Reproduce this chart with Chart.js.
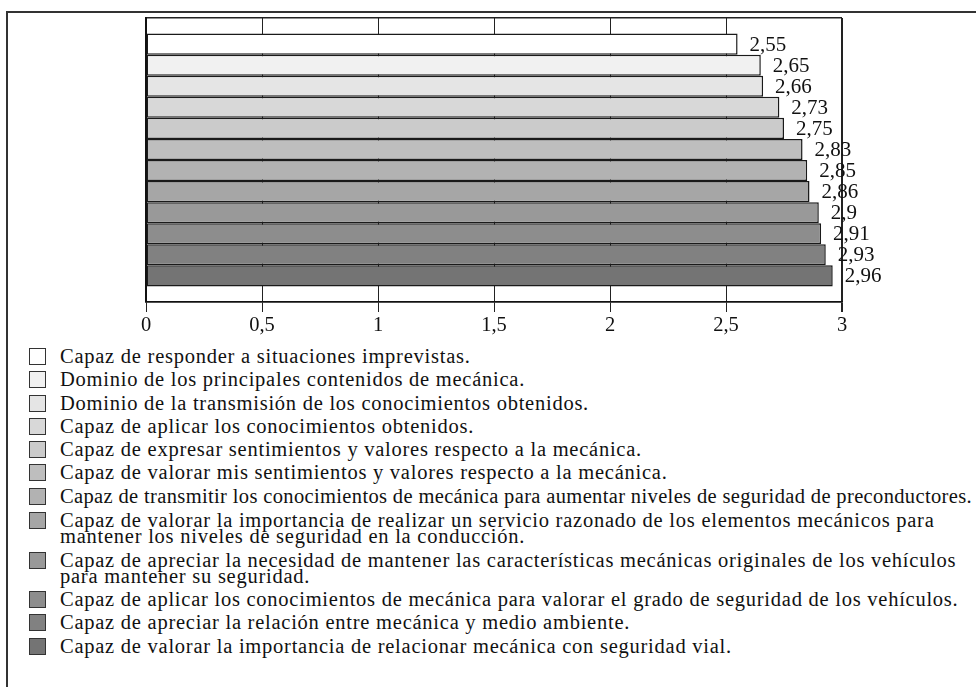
<!DOCTYPE html>
<html>
<head>
<meta charset="utf-8">
<script src="https://cdn.jsdelivr.net/npm/chart.js@4.4.1/dist/chart.umd.min.js"></script>
<style>
  html, body { margin: 0; padding: 0; background: #fff; }
  body { width: 976px; height: 687px; position: relative; overflow: hidden; font-family: "Liberation Serif", "DejaVu Serif", serif; }
  #frame { position: absolute; left: 6px; top: 11px; width: 1000px; height: 700px; border-left: 2px solid #333; border-top: 2px solid #333; }
  #wrap { position: absolute; left: 0; top: 0; width: 976px; height: 345px; }
  #legend { position: absolute; left: 29px; top: 350px; width: 947px; }
  .item { position: relative; padding-left: 31px; font-size: 20.5px; letter-spacing: 0.75px; color: #111; margin-bottom: 9.8px; }
  .item.multi { margin-top: 0px; margin-bottom: 9px; }
  .item .ln { line-height: 13.5px; height: 13.5px; white-space: nowrap; }
  .item.multi .ln { line-height: 15px; height: 15.5px; }
  .item .ln span { display: inline-block; }
  .item .box { position: absolute; left: 0; top: -2px; width: 15px; height: 15px; border: 1.5px solid #333; }
  .item.multi .box { top: -1.5px; }
</style>
</head>
<body>
<div id="frame"></div>
<div id="wrap"><canvas id="c" width="976" height="345"></canvas></div>
<div id="legend"></div>
<script>
// ---- data ----
const categories = [
  ["Capaz de responder a situaciones imprevistas."],
  ["Dominio de los principales contenidos de mecánica."],
  ["Dominio de la transmisión de los conocimientos obtenidos."],
  ["Capaz de aplicar los conocimientos obtenidos."],
  ["Capaz de expresar sentimientos y valores respecto a la mecánica."],
  ["Capaz de valorar mis sentimientos y valores respecto a la mecánica."],
  ["Capaz de transmitir los conocimientos de mecánica para aumentar niveles de seguridad de preconductores."],
  ["Capaz de valorar la importancia de realizar un servicio razonado de los elementos mecánicos para", "mantener los niveles de seguridad en la conducción."],
  ["Capaz de apreciar la necesidad de mantener las características mecánicas originales de los vehículos", "para mantener su seguridad."],
  ["Capaz de aplicar los conocimientos de mecánica para valorar el grado de seguridad de los vehículos."],
  ["Capaz de apreciar la relación entre mecánica y medio ambiente."],
  ["Capaz de valorar la importancia de relacionar mecánica con seguridad vial."]
];
const values = [2.55, 2.65, 2.66, 2.73, 2.75, 2.83, 2.85, 2.86, 2.9, 2.91, 2.93, 2.96];
const xTicks = [0, 0.5, 1, 1.5, 2, 2.5, 3];
const barColors = ['#ffffff','#f1f1f1','#e5e5e5','#d8d8d8','#cbcbcb','#bebebe','#b2b2b2','#a6a6a6','#999999','#8d8d8d','#818181','#747474'];

const fmt = v => String(v).replace('.', ',');
const SERIF = '"Liberation Serif", "DejaVu Serif", serif';

const datasets = values.map((v, i) => ({
  label: categories[i].join(' '),
  data: [v],
  backgroundColor: barColors[i],
  borderColor: '#1a1a1a',
  borderWidth: 1.5,
  borderSkipped: false,
  categoryPercentage: 0.89,
  barPercentage: 1.0
}));

const valueLabels = {
  id: 'valueLabels',
  afterDatasetsDraw(chart) {
    const ctx = chart.ctx;
    ctx.save();
    ctx.font = '21px ' + SERIF;
    ctx.fillStyle = '#111';
    ctx.textAlign = 'left';
    ctx.textBaseline = 'middle';
    chart.data.datasets.forEach((ds, i) => {
      const el = chart.getDatasetMeta(i).data[0];
      ctx.fillText(fmt(ds.data[0]), el.x + 12, el.y + 1);
    });
    ctx.restore();
  }
};

new Chart(document.getElementById('c'), {
  type: 'bar',
  data: { labels: [''], datasets },
  options: {
    indexAxis: 'y',
    responsive: false,
    animation: false,
    layout: { padding: { left: 146, right: 134, top: 18, bottom: 3 } },
    plugins: { legend: { display: false }, tooltip: { enabled: false } },
    scales: {
      x: {
        min: 0, max: 3,
        afterBuildTicks(scale) { scale.ticks = xTicks.map(v => ({ value: v })); },
        afterFit(scale) { scale.height = 40; },
        ticks: { callback: v => fmt(v), color: '#111', font: { family: SERIF, size: 20.5 }, padding: 1, maxRotation: 0 },
        grid: {
          color: '#222',
          lineWidth: c => (c.tick && c.tick.value === 3 ? 2 : 1),
          tickLength: 10,
          drawOnChartArea: true
        },
        border: { display: true, color: '#111', width: 1.5 }
      },
      y: {
        ticks: { display: false },
        afterFit(scale) { scale.width = 0; },
        grid: { display: true, offset: true, color: '#222', lineWidth: 1.5, drawTicks: false },
        border: { display: true, color: '#111', width: 2 }
      }
    }
  },
  plugins: [valueLabels]
});

// HTML legend built from the data arrays
const leg = document.getElementById('legend');
const MAXW = 912;
categories.forEach((lines, i) => {
  const d = document.createElement('div');
  d.className = 'item' + (lines.length > 1 ? ' multi' : '');
  const b = document.createElement('span');
  b.className = 'box';
  b.style.background = barColors[i];
  d.appendChild(b);
  lines.forEach(t => {
    const s = document.createElement('div');
    s.className = 'ln';
    const sp = document.createElement('span');
    sp.textContent = t;
    s.appendChild(sp);
    d.appendChild(s);
  });
  leg.appendChild(d);
});
// squeeze any line that would run past the right edge
document.querySelectorAll('.ln span').forEach(sp => {
  const w = sp.getBoundingClientRect().width;
  if (w > MAXW) {
    const n = sp.textContent.length;
    const cur = 0.75;
    sp.style.letterSpacing = (cur - (w - MAXW) / n).toFixed(3) + 'px';
  }
});
</script>
</body>
</html>
